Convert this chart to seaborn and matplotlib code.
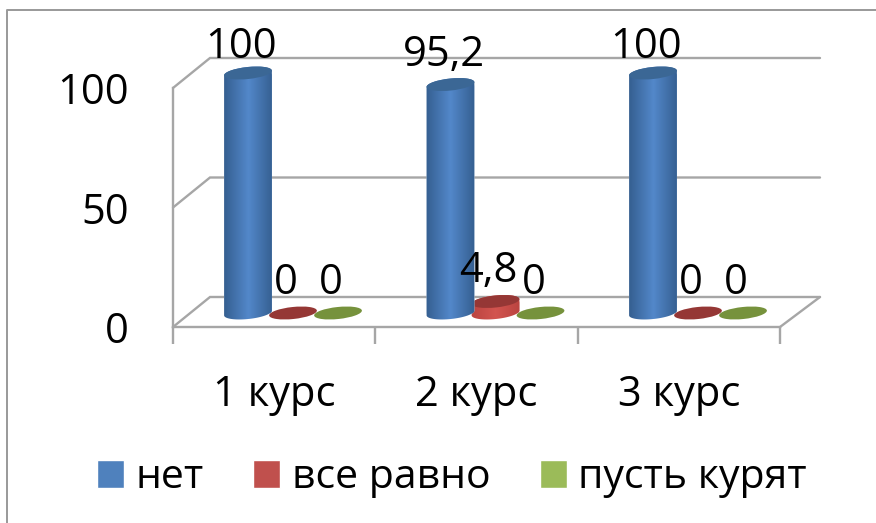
import numpy as np
import pandas as pd
import matplotlib
matplotlib.use("Agg")
import matplotlib.pyplot as plt
import seaborn as sns
from matplotlib.lines import Line2D
from matplotlib.patches import Ellipse
from matplotlib.path import Path
from matplotlib.transforms import IdentityTransform

courses = ["1 курс", "2 курс", "3 курс"]
series_names = ["нет", "все равно", "пусть курят"]
net = [100, 95.2, 100]
vse_ravno = [0, 4.8, 0]
pust_kuryat = [0, 0, 0]
label_texts = [["100", "95,2", "100"], ["0", "4,8", "0"], ["0", "0", "0"]]

colors = ["#4f81bd", "#c0504d", "#9bbb59"]
side_dark = ["#335c8c", "#b8433f", "#76923c"]
side_light = ["#5287c9", "#d2544f", "#9bbb59"]
top_colors = ["#3b6795", "#953735", "#76923c"]
grid_color = "#a6a6a6"

W, H = 876, 523
sns.set_theme(style="white")
plt.rcParams["font.family"] = ["Open Sans", "DejaVu Sans"]
fs = 30

fig = plt.figure(figsize=(W / 100, H / 100), dpi=100)

# рамка всей диаграммы: только сверху и слева
fig.add_artist(Line2D([7 / W, 7 / W, 1], [0, 1 - 9.5 / H, 1 - 9.5 / H], color="#999999", lw=1.4))

# передняя плоскость: оси с делениями
fx0, fx1, fy0, fy1 = 173, 780, 327, 88
frame = fig.add_axes([fx0 / W, 1 - fy0 / H, (fx1 - fx0) / W, (fy0 - fy1) / H])
frame.patch.set_alpha(0)
frame.set_xlim(0, 3)
frame.set_ylim(0, 100)
sns.despine(ax=frame)
for s in ["left", "bottom"]:
    frame.spines[s].set_color(grid_color)
    frame.spines[s].set_linewidth(1.7)
frame.set_yticks([0, 50, 100])
frame.tick_params(axis="y", length=11, width=1.7, color=grid_color, pad=21, labelsize=fs, labelcolor="black")
frame.set_xticks([0, 1, 2, 3])
frame.set_xticklabels([])
frame.set_xticks([0.5, 1.5, 2.5], minor=True)
frame.set_xticklabels(courses, minor=True, fontsize=fs, color="black")
frame.tick_params(axis="x", which="major", bottom=True, length=12, width=1.7, color=grid_color)
frame.tick_params(axis="x", which="minor", bottom=False, length=0, pad=34)

# задняя стенка и пол
dx = 37 / ((fx1 - fx0) / 3)
dx_end = 40 / ((fx1 - fx0) / 3)
dy = 30 / ((fy0 - fy1) / 100)
for v in [0, 50, 100]:
    frame.plot([0, dx, 3 + dx_end], [v, v + dy, v + dy], color=grid_color, lw=1.7, clip_on=False, solid_joinstyle="miter")
frame.plot([3, 3 + dx_end], [0, dy], color=grid_color, lw=1.7, clip_on=False)

# оси со столбиками на всю картинку
ax = fig.add_axes([0, 0, 1, 1])
ax.patch.set_alpha(0)
df = pd.DataFrame({
    "course": courses * 3,
    "series": np.repeat(series_names, 3),
    "value": net + vse_ravno + pust_kuryat,
})
sns.barplot(data=df, x="course", y="value", hue="series", palette=colors, saturation=1, width=0.667, gap=-0.067, ax=ax, errorbar=None)
ax.set_xlim((0 - 293) / 202.5, (W - 293) / 202.5)
ax.set_ylim((313 - H) / 2.4, 313 / 2.4)
ax.axis("off")
fig.canvas.draw()

handles, labels = ax.get_legend_handles_labels()
ax.get_legend().remove()
to_px = ax.transData.transform


def ellipse_points(cx, cy, a, b, angle, t):
    th = np.deg2rad(angle)
    return np.column_stack([
        cx + a * np.cos(t) * np.cos(th) - b * np.sin(t) * np.sin(th),
        cy + a * np.cos(t) * np.sin(th) + b * np.sin(t) * np.cos(th),
    ])


a, b, tilt = 24, 6, 6
grad = np.linspace(0, 1, 64)
grad = 1 - np.abs(grad - 0.5) * 2
cmaps = [matplotlib.colors.LinearSegmentedColormap.from_list("c", [d, l]) for d, l in zip(side_dark, side_light)]

for i, cont in enumerate(ax.containers):
    z = 5 - i
    for j, bar in enumerate(cont):
        x = bar.get_x() + bar.get_width() / 2
        h = bar.get_height()
        bx, by = to_px((x, 0))
        tx, ty = to_px((x, h))
        if h > 0:
            pts = np.vstack([
                ellipse_points(tx, ty, a, b, tilt, np.linspace(0, np.pi, 40)),
                ellipse_points(bx, by, a, b, tilt, np.linspace(np.pi, 2 * np.pi, 40)),
                ellipse_points(tx, ty, a, b, tilt, np.array([0.0])),
            ])
            clip = Path(pts)
            bar.set_clip_path(clip, IdentityTransform())
            bar.set_zorder(z)
            im = ax.imshow(grad[None, :], cmap=cmaps[i], aspect="auto", zorder=z,
                           extent=(x - 0.13, x + 0.13, -5, h + 6))
            im.set_clip_path(clip, IdentityTransform())
        ax.add_patch(Ellipse((tx, ty), 2 * a, 2 * b, angle=tilt, facecolor=top_colors[i], edgecolor="none",
                             transform=IdentityTransform(), zorder=z + 0.5))
        # подпись над "100" стоит чуть ниже остальных
        label_dy = 26 if h == 100 else 30
        ax.annotate(label_texts[i][j], (x, h), xytext=(-7, label_dy), textcoords="offset pixels",
                    ha="center", va="center", fontsize=fs, color="black", zorder=10)

ax.set_xlim((0 - 293) / 202.5, (W - 293) / 202.5)
ax.set_ylim((313 - H) / 2.4, 313 / 2.4)

ax.legend(handles, labels, ncol=3, frameon=False, loc="center", bbox_to_anchor=(452 / W, 1 - 478 / H),
          bbox_transform=fig.transFigure, fontsize=29.5, labelcolor="black", handlelength=0.66, handleheight=0.66,
          handletextpad=0.28, columnspacing=1.2, borderpad=0, borderaxespad=0)

fig.savefig("out.png", dpi=100)
